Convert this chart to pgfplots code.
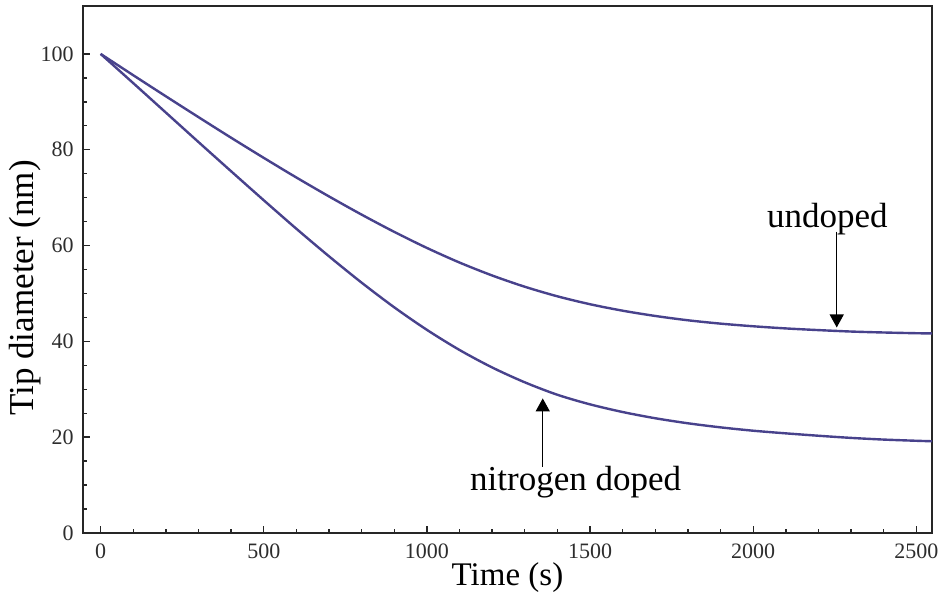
\documentclass[border=0pt]{standalone}
\usepackage{fontspec}
\setmainfont{Liberation Serif}
\usepackage{pgfplots}
\pgfplotsset{compat=1.18}
\usetikzlibrary{calc,arrows.meta}
\definecolor{curve}{RGB}{72,66,140}
\definecolor{ticklab}{RGB}{45,45,45}
\begin{document}
\begin{tikzpicture}
\begin{axis}[
 scale only axis, width=424.5pt, height=263.5pt,
 xmin=-54, xmax=2548, ymin=0, ymax=110,
 xtick={0,500,...,2500}, ytick={0,20,...,100},
 minor x tick num=4, minor y tick num=3,
 tick align=inside, xtick pos=bottom, ytick pos=left,
 major tick length=3.5pt, minor tick length=2pt,
 axis line style={line width=0.9pt, black!85},
 every tick/.style={black!85, line width=0.7pt},
 tick label style={font=\fontsize{11}{13}\selectfont, text=ticklab},
 /pgf/number format/assume math mode=true,
 /pgf/number format/set thousands separator={},
 xticklabel style={yshift=-2pt},
 yticklabel style={xshift=-1.2pt},
 xlabel={Time (s)}, ylabel={Tip diameter (nm)},
 xlabel style={font=\fontsize{16.5}{19}\selectfont, at={(axis description cs:0.5,-0.0854)}, anchor=center},
 ylabel style={font=\fontsize{17.5}{20}\selectfont, at={(axis description cs:-0.0683,0.465)}, anchor=center},
 clip=false
]
\coordinate (bl) at (rel axis cs:0,0);
\coordinate (tr) at (rel axis cs:1,1);
\addplot[curve, line width=1.2pt, smooth] table {
t v
0 100
100 95.55
200 91.15
300 86.8
400 82.5
500 78.3
600 74.2
700 70.25
800 66.45
900 62.85
1000 59.5
1100 56.45
1200 53.75
1300 51.4
1400 49.4
1500 47.75
1600 46.4
1700 45.3
1800 44.4
1900 43.7
2000 43.15
2100 42.7
2200 42.35
2300 42.05
2400 41.85
2500 41.7
2548 41.65
};
\addplot[curve, line width=1.2pt, smooth] table {
t v
0 100
100 93.9
200 87.75
300 81.6
400 75.5
500 69.45
600 63.5
700 57.75
800 52.25
900 47.1
1000 42.4
1100 38.2
1200 34.55
1300 31.45
1400 28.85
1500 26.85
1600 25.25
1700 23.95
1800 22.9
1900 22.05
2000 21.35
2100 20.8
2200 20.3
2300 19.85
2400 19.5
2500 19.25
2548 19.15
};
\node[font=\fontsize{17.5}{20}\selectfont] at (axis cs:2227,65.5) {undoped};
\draw[line width=0.6pt, -{Triangle[width=7pt,length=6.5pt]}] (axis cs:2256,62.9) -- (axis cs:2256,42.9);
\node[font=\fontsize{17.5}{20}\selectfont] at (axis cs:1456,10.6) {nitrogen doped};
\draw[line width=0.6pt, -{Triangle[width=7pt,length=6.5pt]}] (axis cs:1355,13.8) -- (axis cs:1355,28.1);
\end{axis}
\pgfresetboundingbox
\path[use as bounding box] ($(bl)+(-41.5pt,-33pt)$) rectangle ($(tr)+(4.5pt,3pt)$);
\end{tikzpicture}
\end{document}
